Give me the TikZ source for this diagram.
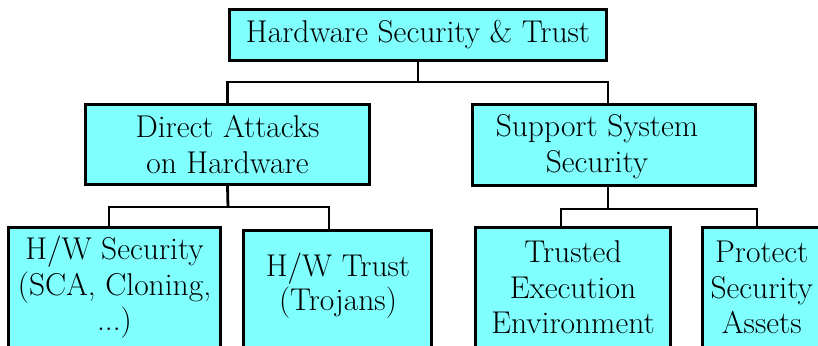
\documentclass[tikz,border=0pt]{standalone}
\usepackage{fontspec}
\definecolor{boxfill}{RGB}{128,255,255}
\begin{document}
\begin{tikzpicture}[x=1pt,y=-1pt,
  box/.style={draw=black, line width=3pt, fill=boxfill, inner sep=0pt, align=center,
    font=\fontsize{31.5}{35.5}\selectfont},
  txt/.style={inner sep=0pt, align=center, font=\fontsize{31.5}{36}\selectfont},
  conn/.style={draw=black, line width=2.8pt}]
\useasboundingbox (0,0) rectangle (818,345);
% boxes
\node[box, minimum width=377pt, minimum height=51pt] (top) at (418,35) {Hardware Security \& Trust};
\node[box, minimum width=284pt, minimum height=80pt, font=\fontsize{31.5}{36}\selectfont] (dah) at (227.5,144.5) {Direct Attacks\\on Hardware};
\node[box, minimum width=283pt, minimum height=81pt] (sss) at (614,145) {};
\node[txt] (ssst) at (597,146.7) {Support System\\Security};
\node[box, minimum width=212pt, minimum height=120pt] (hws) at (114.5,287.5) {H/W Security\\(SCA, Cloning,\\...)};
\node[box, minimum width=188pt, minimum height=117pt] (hwt) at (337.5,289) {};
\node[txt, font=\fontsize{31.5}{34.5}\selectfont] (hwtt) at (338,285.6) {H/W Trust\\(Trojans)};
\node[box, minimum width=195pt, minimum height=120pt] (tee) at (573,287.5) {Trusted\\Execution\\Environment};
\node[box, minimum width=118.5pt, minimum height=120pt] (psa) at (761.75,287.5) {Protect\\Security\\Assets};
% connectors
\coordinate (j1) at (418,82);
\coordinate (j2) at (228,207);
\coordinate (j3) at (608,209);
\draw[conn] (top.south) -- (j1);
\draw[conn] (dah.north) |- (j1) -| ([xshift=-6pt]sss.north);
\draw[conn] (dah.south) -- (j2);
\draw[conn] ([xshift=-5.5pt]hws.north) |- (j2) -| ([xshift=-8.5pt]hwt.north);
\draw[conn] ([xshift=-6pt]sss.south) -- (j3);
\draw[conn] ([xshift=-12pt]tee.north) |- (j3) -| ([xshift=-4.75pt]psa.north);
\end{tikzpicture}
\end{document}
